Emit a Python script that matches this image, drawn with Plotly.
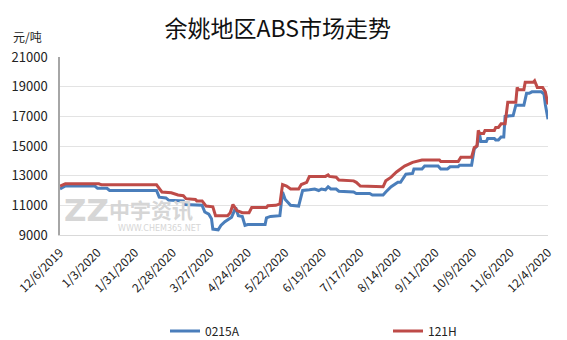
import plotly.graph_objects as go

# ---- data ----
dates_0215a = [
    "2019-12-06", "2019-12-10", "2020-01-01", "2020-01-03", "2020-01-10", "2020-01-12",
    "2020-02-16", "2020-02-18", "2020-02-23", "2020-02-25", "2020-03-07", "2020-03-08",
    "2020-03-21", "2020-03-23", "2020-03-26", "2020-03-28", "2020-03-29", "2020-04-02",
    "2020-04-04", "2020-04-07", "2020-04-12", "2020-04-15", "2020-04-17", "2020-04-20",
    "2020-04-22", "2020-04-24", "2020-05-07", "2020-05-08", "2020-05-11", "2020-05-18",
    "2020-05-20", "2020-05-22", "2020-05-26", "2020-06-01", "2020-06-03", "2020-06-04",
    "2020-06-09", "2020-06-13", "2020-06-16", "2020-06-18", "2020-06-21", "2020-06-23",
    "2020-06-25", "2020-06-29", "2020-07-01", "2020-07-12", "2020-07-14", "2020-07-24",
    "2020-07-26", "2020-08-03", "2020-08-05", "2020-08-09", "2020-08-14", "2020-08-16",
    "2020-08-20", "2020-08-25", "2020-08-26", "2020-09-01", "2020-09-03", "2020-09-13",
    "2020-09-15", "2020-09-20", "2020-09-22", "2020-09-28", "2020-09-29", "2020-10-08",
    "2020-10-10", "2020-10-12", "2020-10-14", "2020-10-15", "2020-10-19", "2020-10-20",
    "2020-10-25", "2020-10-26", "2020-10-28", "2020-10-30", "2020-11-01", "2020-11-02",
    "2020-11-08", "2020-11-10", "2020-11-16", "2020-11-18", "2020-11-20", "2020-11-22",
    "2020-11-29", "2020-12-01", "2020-12-02", "2020-12-04",
]
values_0215a = [
    12100, 12300, 12300, 12150, 12150, 12000,
    12000, 11550, 11500, 11350, 11300, 11050,
    11000, 10550, 10400, 10100, 9400, 9350,
    9650, 9900, 10200, 10850, 10300, 10250,
    9650, 9700, 9700, 10150, 10250, 10300,
    11900, 11400, 11000, 10950, 11650, 12000,
    12050, 12100, 12000, 12100, 12050, 12250,
    12100, 12100, 11950, 11900, 11800, 11800,
    11700, 11700, 11900, 12250, 12550, 12550,
    13100, 13150, 13450, 13450, 13650, 13650,
    13450, 13450, 13600, 13600, 13700, 13700,
    14800, 15000, 15750, 15300, 15300, 15500,
    15500, 15400, 15400, 15600, 15600, 17000,
    17050, 17750, 17750, 18550, 18550, 18650,
    18650, 18500, 17800, 16800,
]

dates_121h = [
    "2019-12-06", "2019-12-10", "2020-01-04", "2020-01-06", "2020-02-16", "2020-02-20",
    "2020-02-27", "2020-03-03", "2020-03-07", "2020-03-09", "2020-03-16", "2020-03-17",
    "2020-03-21", "2020-03-24", "2020-03-29", "2020-03-31", "2020-04-09", "2020-04-11",
    "2020-04-13", "2020-04-16", "2020-04-20", "2020-04-25", "2020-04-27", "2020-05-08",
    "2020-05-09", "2020-05-15", "2020-05-18", "2020-05-20", "2020-05-23", "2020-05-26",
    "2020-06-01", "2020-06-03", "2020-06-07", "2020-06-09", "2020-06-21", "2020-06-23",
    "2020-06-24", "2020-06-29", "2020-07-01", "2020-07-12", "2020-07-14", "2020-07-17",
    "2020-08-03", "2020-08-05", "2020-08-09", "2020-08-13", "2020-08-19", "2020-08-25",
    "2020-09-01", "2020-09-14", "2020-09-15", "2020-09-28", "2020-09-30", "2020-10-08",
    "2020-10-10", "2020-10-12", "2020-10-13", "2020-10-14", "2020-10-17", "2020-10-18",
    "2020-10-25", "2020-10-26", "2020-10-28", "2020-10-30", "2020-11-02", "2020-11-04",
    "2020-11-10", "2020-11-11", "2020-11-12", "2020-11-16", "2020-11-17", "2020-11-23",
    "2020-11-24", "2020-11-26", "2020-11-30", "2020-12-02", "2020-12-04",
]
values_121h = [
    12300, 12450, 12450, 12380, 12380, 11900,
    11850, 11700, 11650, 11450, 11400, 11300,
    11300, 10950, 10900, 10300, 10300, 10500,
    11050, 10650, 10500, 10500, 10850, 10850,
    10970, 11000, 11100, 12400, 12300, 12100,
    12100, 12400, 12550, 12950, 12950, 13050,
    12950, 12900, 12700, 12650, 12550, 12300,
    12250, 12650, 12900, 13250, 13650, 13900,
    14050, 14050, 13950, 13950, 14250, 14250,
    14900, 15000, 16050, 15850, 15850, 16050,
    16050, 16250, 16250, 16500, 16500, 17950,
    17950, 18950, 18800, 18800, 19300, 19300,
    19400, 18950, 18950, 18650, 17800,
]

series_names = ["0215A", "121H"]
title_text = "余姚地区ABS市场走势"
unit_text = "元/吨"
y_ticks = [9000, 11000, 13000, 15000, 17000, 19000, 21000]
y_tick_labels = [str(v) for v in y_ticks]
x_start, x_end = "2019-12-06", "2020-12-04"

W, H = 567, 340
L, R, T, B = 52, 19, 57, 105
FONT = "Noto Sans CJK SC"

fig = go.Figure()
fig.add_trace(go.Scatter(x=dates_0215a, y=values_0215a, mode="lines", name=series_names[0],
                         line=dict(color="#4A7EBB", width=3)))
fig.add_trace(go.Scatter(x=dates_121h, y=values_121h, mode="lines", name=series_names[1],
                         line=dict(color="#BE4B48", width=3)))

def px_x(p):
    return (p - L) / (W - L - R)

def px_y(p):
    return (H - B - p) / (H - T - B)

wm = "#d6d6d6"
annotations = [
    dict(text=unit_text, xref="paper", yref="paper", x=px_x(3), y=px_y(37), xanchor="left",
         yanchor="middle", showarrow=False, borderpad=0,
         font=dict(family=FONT, size=12, color="#222")),
    dict(text="<b>ZZ</b>", xref="paper", yref="paper", x=px_x(79), y=px_y(210), xanchor="center",
         yanchor="middle", showarrow=False, font=dict(family="DejaVu Sans", size=31, color=wm)),
    dict(text="<b>中宇资讯</b>", xref="paper", yref="paper", x=px_x(144), y=px_y(209), xanchor="center",
         yanchor="middle", showarrow=False, font=dict(family=FONT, size=21, color=wm)),
    dict(text="WWW.CHEM365.NET", xref="paper", yref="paper", x=px_x(153), y=px_y(228), xanchor="center",
         yanchor="middle", showarrow=False, font=dict(family="DejaVu Sans", size=8, color=wm)),
]

fig.update_layout(
    width=W, height=H,
    margin=dict(l=L, r=R, t=T, b=B),
    paper_bgcolor="white", plot_bgcolor="white",
    title=dict(text=title_text, x=0.49, xref="container", xanchor="center",
               y=1 - 29 / H, yref="container", yanchor="middle",
               font=dict(family=FONT, size=23, color="#111")),
    font=dict(family=FONT, size=12, color="#222"),
    showlegend=True,
    legend=dict(orientation="h", xref="container", yref="container",
                x=165 / W, y=1 - 331 / H, xanchor="left", yanchor="middle",
                entrywidth=178, entrywidthmode="pixels",
                font=dict(family=FONT, size=12, color="#222"), bgcolor="rgba(0,0,0,0)"),
    annotations=annotations,
    xaxis=dict(type="date", range=[x_start, x_end], tick0=x_start, dtick=28 * 86400000,
               tickformat="%-m/%-d/%Y", tickangle=-45, showgrid=False, showline=True,
               linecolor="#d9d9d9", linewidth=1, ticks="", ticklabelstandoff=5,
               tickfont=dict(family=FONT, size=12, color="#222"), zeroline=False),
    yaxis=dict(range=[9000, 21000], tickvals=y_ticks, ticktext=y_tick_labels,
               showgrid=True, gridcolor="#e3e3e3",
               gridwidth=1, showline=True, linecolor="#a6a6a6", linewidth=1.5, ticks="",
               ticklabelstandoff=8, tickfont=dict(family=FONT, size=13, color="#222"),
               zeroline=False),
)

fig.write_html("out.html")
